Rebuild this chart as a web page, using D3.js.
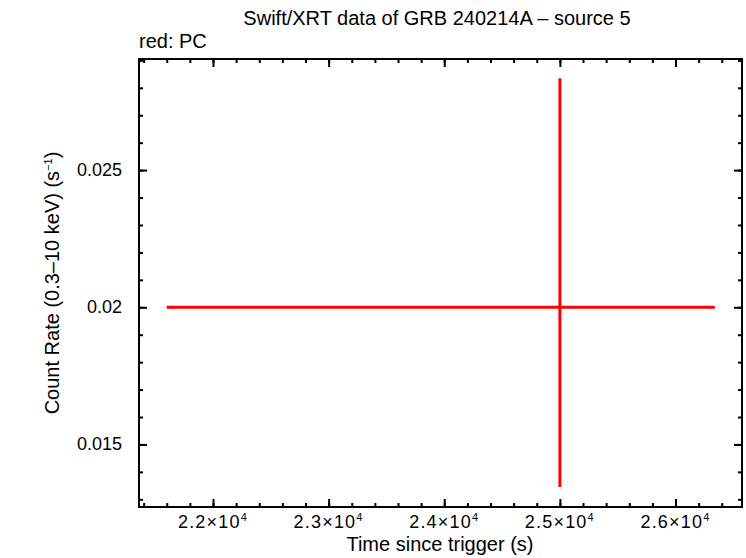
<!DOCTYPE html>
<html>
<head>
<meta charset="utf-8">
<script src="https://cdn.jsdelivr.net/npm/d3@7"></script>
<style>
    body { margin: 0; background: #fff; }
    text { font-family: "Liberation Sans", Arial, sans-serif; fill: #000; }
</style>
</head>
<body>
<div id="chart"></div>
<script>
// data
let times = [25000];
let timeErrLow = [3400];
let timeErrHigh = [1340];
let rates = [0.02];
let rateErrLow = [0.00655];
let rateErrHigh = [0.00835];

let xTicks = [22000, 23000, 24000, 25000, 26000];
let yTicks = [0.015, 0.02, 0.025];
let yTickLabels = ["0.015", "0.02", "0.025"];

let W = 746, H = 558;
let margin = {top: 59, right: 4, bottom: 51, left: 139};
let width = W - margin.left - margin.right;
let height = H - margin.top - margin.bottom;

let svg = d3.select("#chart").append("svg")
    .attr("width", W)
    .attr("height", H);

let g = svg.append("g")
    .attr("transform", `translate(${margin.left}, ${margin.top})`);

let x = d3.scaleLinear().domain([21360, 26575]).range([0, width]);
let y = d3.scaleLinear().domain([0.01272, 0.02905]).range([height, 0]);

// minor + major ticks on all four sides, pointing inward
let xMinor = d3.range(21400, 26575, 200);
let yMinor = d3.range(0.013, 0.0291, 0.001);

function drawTicks(axisFn, scale, ticks, size, transform) {
    g.append("g")
        .attr("transform", transform)
        .call(axisFn(scale).tickValues(ticks).tickSize(size).tickFormat(""))
        .call(a => a.select(".domain").remove())
        .selectAll("line").attr("stroke", "#000").attr("stroke-width", 2);
}

drawTicks(d3.axisTop, x, xMinor, 4, `translate(0,${height})`);
drawTicks(d3.axisTop, x, xTicks, 8, `translate(0,${height})`);
drawTicks(d3.axisBottom, x, xMinor, 4, `translate(0,0)`);
drawTicks(d3.axisBottom, x, xTicks, 8, `translate(0,0)`);
drawTicks(d3.axisRight, y, yMinor, 4, `translate(0,0)`);
drawTicks(d3.axisRight, y, yTicks, 8, `translate(0,0)`);
drawTicks(d3.axisLeft, y, yMinor, 4, `translate(${width},0)`);
drawTicks(d3.axisLeft, y, yTicks, 8, `translate(${width},0)`);

// frame
g.append("rect")
    .attr("width", width)
    .attr("height", height)
    .attr("fill", "none")
    .attr("stroke", "#000")
    .attr("stroke-width", 2);

// x tick labels with superscript exponent
let xl = g.append("g").selectAll("text")
    .data(xTicks)
    .enter().append("text")
    .attr("x", d => x(d))
    .attr("y", height + 21)
    .attr("text-anchor", "middle")
    .style("font-size", "18px")
    .style("letter-spacing", "1.2px");
xl.append("tspan").text(d => (d / 10000).toFixed(1) + "\u00d710");
xl.append("tspan").attr("dy", -7).style("font-size", "11px").text("4");

// y tick labels
g.append("g").selectAll("text")
    .data(yTicks)
    .enter().append("text")
    .attr("x", -17)
    .attr("y", d => y(d) + 6)
    .attr("text-anchor", "end")
    .style("font-size", "18px")
    .text((d, i) => yTickLabels[i]);

// data: error bars
let pts = times.map((t, i) => ({t, r: rates[i], tl: timeErrLow[i], th: timeErrHigh[i], rl: rateErrLow[i], rh: rateErrHigh[i]}));

g.selectAll(".xerr").data(pts).enter().append("line")
    .attr("x1", d => x(d.t - d.tl)).attr("x2", d => x(d.t + d.th))
    .attr("y1", d => y(d.r)).attr("y2", d => y(d.r))
    .attr("stroke", "#f00").attr("stroke-width", 3);

g.selectAll(".yerr").data(pts).enter().append("line")
    .attr("x1", d => x(d.t)).attr("x2", d => x(d.t))
    .attr("y1", d => y(d.r - d.rl)).attr("y2", d => y(d.r + d.rh))
    .attr("stroke", "#f00").attr("stroke-width", 3);

// titles
svg.append("text")
    .attr("x", 437).attr("y", 25)
    .attr("text-anchor", "middle")
    .style("font-size", "20px")
    .text("Swift/XRT data of GRB 240214A \u2013 source 5");

svg.append("text")
    .attr("x", 139).attr("y", 48)
    .style("font-size", "20px")
    .text("red: PC");

svg.append("text")
    .attr("x", 440).attr("y", 551)
    .attr("text-anchor", "middle")
    .style("font-size", "20px")
    .text("Time since trigger (s)");

let yl = svg.append("text")
    .attr("transform", "translate(59,283) rotate(-90)")
    .attr("text-anchor", "middle")
    .style("font-size", "20px");
yl.append("tspan").text("Count Rate (0.3\u201310 keV) (s");
yl.append("tspan").attr("dy", -7).style("font-size", "11px").text("\u22121");
yl.append("tspan").attr("dy", 7).text(")");
</script>
</body>
</html>
